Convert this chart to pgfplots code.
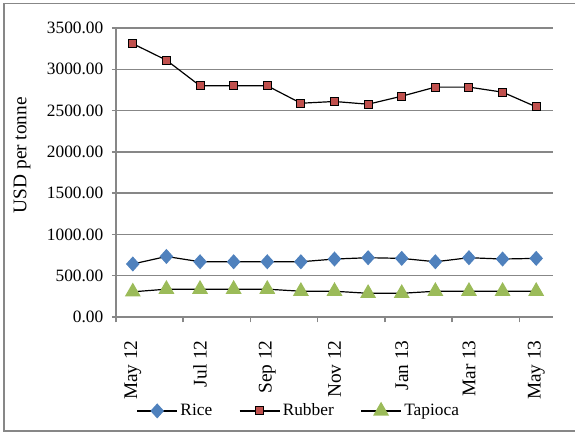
\documentclass[border=0pt]{standalone}
\usepackage{fontspec}
\setmainfont{Liberation Serif}
\usepackage{pgfplots}
\pgfplotsset{compat=1.18}

\definecolor{riceblue}{HTML}{4F81BD}
\definecolor{rubberred}{HTML}{C0504D}
\definecolor{tapgreen}{HTML}{9BBB59}
\definecolor{gridgray}{HTML}{878787}

\pgfplotstableread{
idx rice rubber tapioca
0  642 3310 305
1  733 3110 337
2  669 2800 337
3  669 2800 337
4  669 2800 337
5  669 2589 312
6  702 2610 312
7  718 2577 287
8  710 2674 287
9  669 2784 312
10 718 2784 312
11 702 2723 312
12 710 2545 312
}\prices

\begin{document}
\begin{tikzpicture}
% page 575x432 px, 1 px = 0.75 pt, axis lower-left at (116,317) px
\path[use as bounding box] (-87pt,-86.25pt) rectangle (344.25pt,237.75pt);
\draw[gridgray, line width=1.2pt] (-84pt,-85.5pt) rectangle (346pt,235.1pt);
\begin{axis}[
    at={(0pt,0pt)}, anchor=south west,
    scale only axis,
    width=327.75pt, height=216.75pt,
    xmin=-0.5, xmax=12.5,
    ymin=0, ymax=3500,
    axis lines=left,
    axis line style={-, gridgray, line width=1.5pt},
    ymajorgrids,
    grid style={gridgray, line width=1.1pt},
    ytick={0,500,...,3500},
    /pgf/number format/fixed,
    /pgf/number format/fixed zerofill,
    /pgf/number format/precision=2,
    /pgf/number format/1000 sep={},
    /pgf/number format/assume math mode=true,
    yticklabel style={font=\fontsize{13}{15}\selectfont, xshift=-3pt},
    ytick style={gridgray, line width=1.1pt},
    major tick length=3pt,
    tick align=outside,
    xtick={0,2,...,12},
    xticklabels={May 12, Jul 12, Sep 12, Nov 12, Jan 13, Mar 13, May 13},
    xticklabel style={rotate=90, anchor=east, font=\fontsize{14.5}{16}\selectfont, xshift=-11pt},
    x tick style={draw=none},
    extra x ticks={-0.5,1.5,...,11.5},
    extra x tick labels={},
    extra x tick style={x tick style={gridgray, line width=1.1pt, draw=gridgray}, major tick length=4pt, grid=none},
    ylabel={USD per tonne},
    ylabel style={at={(axis description cs:-0.215,0.56)}, anchor=center, font=\fontsize{14.5}{16}\selectfont},
    legend columns=3,
    legend style={at={(axis description cs:0.419,-0.325)}, anchor=center, draw=none, fill=none,
        font=\fontsize{13}{15}\selectfont,
        /tikz/every even column/.append style={column sep=18pt}},
    legend image code/.code={
        \draw[black, line width=0.9pt] (0pt,0pt) -- (30pt,0pt);
        \path plot coordinates {(15pt,0pt)};
    },
]
\addplot[black, line width=0.9pt, mark=diamond*, mark size=5pt,
    mark options={fill=riceblue, draw=riceblue, xscale=1.2}] table[x=idx, y=rice] {\prices};
\addlegendentry{Rice}
\addplot[black, line width=0.9pt, mark=square*, mark size=3pt,
    mark options={fill=rubberred, draw=black, line width=0.8pt}] table[x=idx, y=rubber] {\prices};
\addlegendentry{Rubber}
\addplot[black, line width=0.9pt, mark=triangle*, mark size=6pt,
    mark options={fill=tapgreen, draw=tapgreen}] table[x=idx, y=tapioca] {\prices};
\addlegendentry{Tapioca}
\end{axis}
\end{tikzpicture}
\end{document}
